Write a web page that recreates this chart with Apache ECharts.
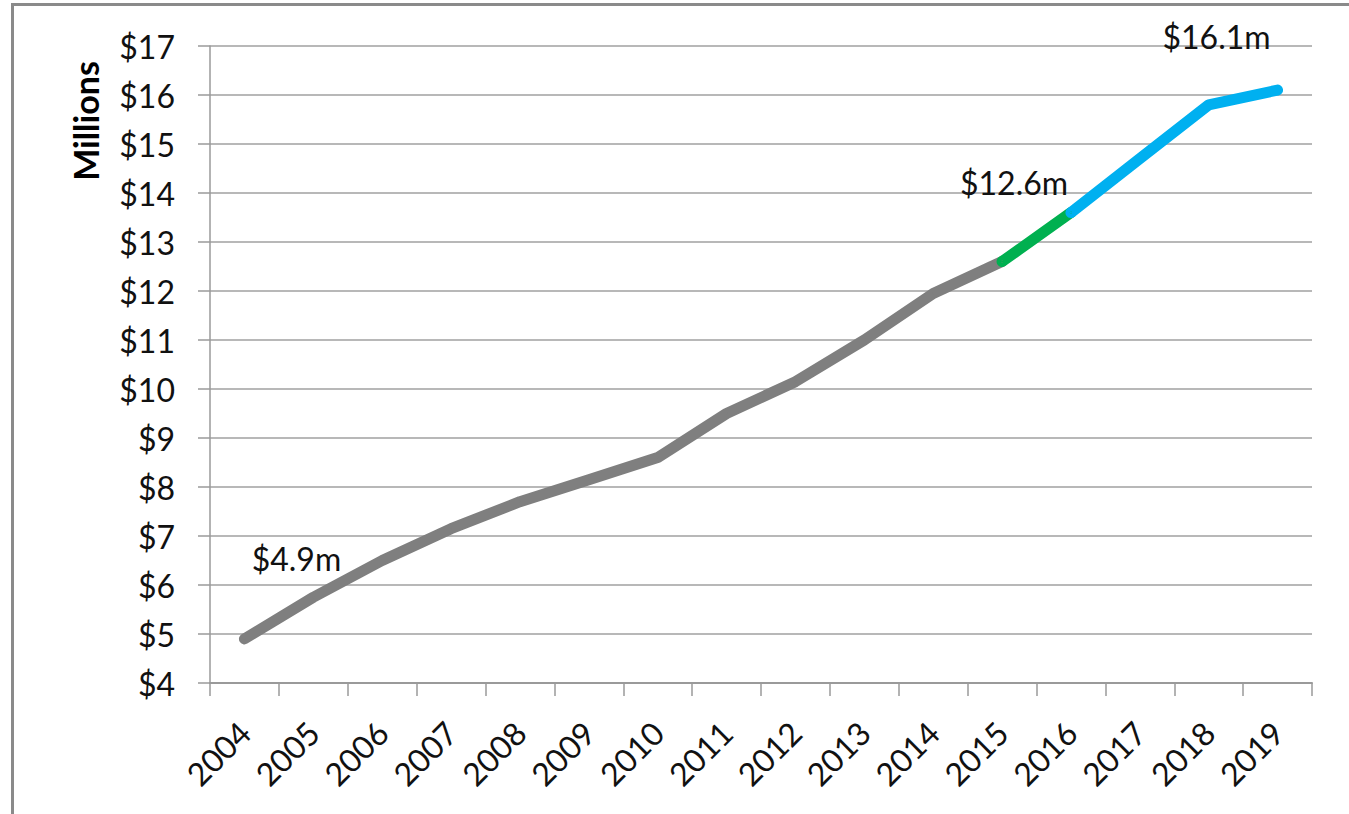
<!DOCTYPE html>
<html>
<head>
<meta charset="utf-8">
<script src="https://cdn.jsdelivr.net/npm/echarts@6/dist/echarts.min.js"></script>
<style>
  html, body { margin: 0; padding: 0; background: #fff; overflow: hidden; }
  #frame { position: absolute; left: 11px; top: 3px; width: 1400px; height: 900px;
           border: 3px solid #8a8a8a; box-sizing: border-box; }
  #chart { position: absolute; left: 0; top: 0; width: 1349px; height: 814px; }
</style>
</head>
<body>
<div id="frame"></div>
<div id="chart"></div>
<script>
// ---- data ----
const years = ['2004','2005','2006','2007','2008','2009','2010','2011','2012','2013','2014','2015','2016','2017','2018','2019'];
const values = [4.9, 5.75, 6.5, 7.15, 7.7, 8.15, 8.6, 9.5, 10.15, 11.0, 11.95, 12.6, 13.6, 14.7, 15.8, 16.1];
// segments (index ranges, inclusive)
const grayRange = [0, 11];
const greenRange = [11, 12];
const blueRange = [12, 15];
// annotation labels: index -> text
const annotations = { 0: '$4.9m', 11: '$12.6m', 15: '$16.1m' };
const yTicks = { min: 4, max: 17, interval: 1 };

// ---- styles ----
const FONT = 'Lato';
const annotationOffsets = { 0: [52, -80], 11: [12, -79], 15: [-61, -54] };

function segment(range, owner) {
  return values.map((v, i) => {
    if (i < range[0] || i > range[1]) return null;
    const item = { value: v };
    if (annotations[i] !== undefined && owner(i)) {
      item.label = {
        show: true,
        formatter: annotations[i],
        position: 'inside',
        offset: annotationOffsets[i],
        align: 'center',
        verticalAlign: 'middle',
        fontSize: 32,
        fontFamily: FONT,
        color: '#111'
      };
    }
    return item;
  });
}

function lineSeries(name, range, color, owner) {
  return {
    name: name,
    type: 'line',
    data: segment(range, owner),
    symbol: 'circle',
    symbolSize: 2,
    showSymbol: true,
    connectNulls: false,
    itemStyle: { color: color },
    lineStyle: { color: color, width: 11, cap: 'round', join: 'round' },
    emphasis: { disabled: true },
    z: 3
  };
}

const chart = echarts.init(document.getElementById('chart'), null, { renderer: 'svg' });
chart.setOption({
  animation: false,
  grid: { left: 210, right: 37, top: 46, bottom: 131, containLabel: false },
  xAxis: {
    type: 'category',
    data: years,
    boundaryGap: true,
    axisLine: { show: true, lineStyle: { color: '#9a9a9a', width: 2 } },
    axisTick: { show: true, length: 13, interval: 0, lineStyle: { color: '#9a9a9a', width: 1.5 } },
    axisLabel: { interval: 0, rotate: 45, margin: 44, fontSize: 32, fontFamily: FONT, color: '#111' },
    splitLine: { show: false }
  },
  yAxis: {
    type: 'value',
    min: yTicks.min,
    max: yTicks.max,
    interval: yTicks.interval,
    axisLine: { show: true, lineStyle: { color: '#9a9a9a', width: 1.5 } },
    axisTick: { show: true, length: 12, lineStyle: { color: '#9a9a9a', width: 1.5 } },
    axisLabel: { margin: 35, fontSize: 32, fontFamily: FONT, color: '#111', formatter: v => '$' + v },
    splitLine: { show: true, lineStyle: { color: '#a0a0a0', width: 1.5 } }
  },
  graphic: [{
    type: 'text',
    x: 85, y: 121,
    rotation: Math.PI / 2,
    style: { text: 'Millions', fontSize: 34, fontWeight: 'bold', fontFamily: FONT,
             fill: '#000', align: 'center', verticalAlign: 'middle' }
  }],
  series: [
    lineSeries('gray', grayRange, '#7f7f7f', i => i !== 11),
    lineSeries('green', greenRange, '#00b050', i => i === 11),
    lineSeries('blue', blueRange, '#00b0f0', i => i === 15)
  ]
});
</script>
</body>
</html>
